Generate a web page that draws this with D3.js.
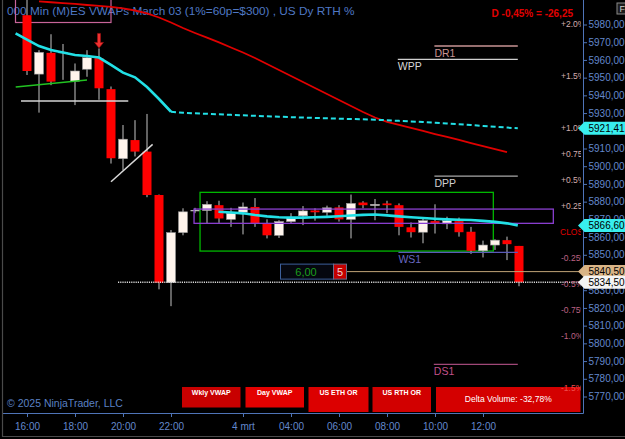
<!DOCTYPE html>
<html>
<head>
<meta charset="utf-8">
<script src="https://cdn.jsdelivr.net/npm/d3@7"></script>
<style>
html, body { margin: 0; padding: 0; background: #000; }
svg { display: block; font-family: "Liberation Sans", Arial, sans-serif; }
</style>
</head>
<body>
<script>
// Set up size
var W = 625, H = 439;

// 42 candles, bar 0 = 16:00
var opens  = [5985.25, 5952.0, 5964.0, 5964.5, 5948.0, 5954.75, 5961.0, 5943.5, 5904.25, 5914.75,
              5908.25, 5883.75, 5834.25, 5862.5, 5875.25, 5875.0, 5878.0, 5870.0, 5874.0, 5877.0,
              5867.75, 5861.0, 5868.75, 5872.0, 5875.0, 5874.0, 5876.75, 5870.0, 5879.5, 5877.75,
              5879.0, 5878.0, 5865.5, 5862.75, 5869.0, 5867.5, 5869.0, 5863.0, 5852.25, 5855.5,
              5858.25, 5855.0];
var highs  = [5994.0, 5965.5, 5974.5, 5969.0, 5958.0, 5965.5, 5966.5, 5945.0, 5923.25, 5926.0,
              5929.5, 5884.0, 5864.0, 5876.25, 5876.5, 5880.25, 5880.5, 5876.5, 5879.5, 5882.0,
              5870.0, 5869.5, 5873.5, 5877.5, 5876.25, 5877.75, 5878.0, 5884.0, 5880.25, 5881.5,
              5880.5, 5879.0, 5868.25, 5871.0, 5878.5, 5871.5, 5871.0, 5865.75, 5858.0, 5858.75,
              5860.25, 5855.0];
var lows   = [5951.5, 5930.25, 5945.75, 5948.75, 5934.5, 5950.5, 5937.5, 5901.5, 5897.75, 5905.5,
              5882.5, 5830.5, 5821.0, 5861.0, 5873.5, 5867.75, 5868.0, 5865.75, 5861.5, 5865.75,
              5859.25, 5859.5, 5867.75, 5866.75, 5869.25, 5872.0, 5868.75, 5859.25, 5876.25, 5869.5,
              5873.5, 5861.0, 5859.75, 5856.5, 5862.0, 5864.5, 5860.25, 5850.5, 5848.5, 5852.75,
              5847.0, 5832.25];
var closes = [5953.75, 5964.25, 5947.75, 5964.5, 5953.75, 5961.25, 5944.0, 5904.5, 5915.25, 5908.25,
              5883.75, 5834.25, 5862.5, 5874.25, 5875.25, 5878.5, 5870.5, 5873.5, 5877.0, 5867.75,
              5861.0, 5868.75, 5871.0, 5874.75, 5874.0, 5876.5, 5870.0, 5879.0, 5878.0, 5878.5,
              5878.0, 5865.75, 5862.75, 5869.25, 5867.75, 5869.25, 5862.75, 5852.25, 5855.5, 5858.25,
              5856.0, 5834.5];

var timeLabels = ["16:00", "18:00", "20:00", "22:00", "4 mrt", "04:00", "06:00", "08:00", "10:00", "12:00"];
var timeLabelBars = [0, 4, 8, 12, 18, 22, 26, 30, 34, 38];

// weekly vwap, starts at bar -1 (solid until bar 12, dashed after)
var weeklyVwap = [5975.0, 5971.5, 5967.85, 5965.6, 5964.2, 5962.8, 5962.2, 5961.35, 5957.15, 5952.8, 5950.2,
                  5944.7, 5937.95, 5930.75, 5930.2, 5929.85, 5929.6, 5929.3, 5929.0, 5928.75, 5928.45,
                  5928.15, 5927.95, 5927.7, 5927.5, 5927.25, 5927.05, 5926.85, 5926.65, 5926.45, 5926.25,
                  5925.95, 5925.6, 5925.3, 5924.95, 5924.55, 5924.15, 5923.7, 5923.25, 5922.75, 5922.25,
                  5921.8, 5921.41];
var weeklyStart = -1;

// day vwap, starts at bar 16
var dayVwap = [5874.3, 5873.85, 5873.4, 5872.45, 5871.7, 5871.15, 5871.0, 5871.0, 5871.15, 5871.4,
               5871.75, 5872.15, 5872.55, 5872.7, 5872.25, 5871.7, 5871.15, 5870.75, 5870.3, 5870.0,
               5869.8, 5869.6, 5869.15, 5868.6, 5867.75, 5866.6];
var dayStart = 16;

// red line, starts at bar 1
var redLine = [5993.0, 5992.55, 5992.05, 5991.6, 5991.0, 5990.55, 5990.0, 5989.05, 5987.9, 5986.25,
               5983.95, 5981.15, 5978.0, 5975.2, 5972.55, 5969.95, 5967.0, 5964.2, 5961.1, 5957.7,
               5954.3, 5950.9, 5947.55, 5944.15, 5940.75, 5937.35, 5934.0, 5930.6, 5927.5, 5925.05,
               5923.35, 5921.6, 5919.9, 5918.15, 5916.5, 5914.8, 5913.05, 5911.35, 5909.6, 5907.9];
var redStart = 1;

var levelNames  = ["DR1", "WPP", "DPP", "WS1", "DS1"];
var levelPrices = [5967.85, 5960.35, 5894.45, 5851.35, 5788.15];
var levelStart  = [33.95, 30.9, 33.95, 30.95, 33.9];
var levelColors = ["#c99494", "#cfcfcf", "#a8a8a8", "#5a5ab8", "#a04878"];
var levelText   = ["#c99494", "#d8d8d8", "#d0d0d0", "#6868c0", "#c0508a"];

var pctSteps  = [2, 1.5, 1, 0.75, 0.5, 0.25, -0.25, -0.5, -0.75, -1, -1.5];
var pctLabels = ["+2.0%", "+1.5%", "+1.0%", "+0.75%", "+0.5%", "+0.25%", "-0.25%", "-0.5%", "-0.75%", "-1.0%", "-1.5%"];
var refClose = 5863;

var tagPrices = [5921.41, 5866.60, 5840.50, 5834.50];
var tagColors = ["#38eeee", "#38eeee", "#d9b486", "#f4f4f4"];

var buttonLabels = ["Wkly VWAP", "Day VWAP", "US ETH OR", "US RTH OR", "Delta Volume: -32,78%"];

// scales
var x = d3.scaleLinear().domain([0, 41]).range([27, 519]);
var y = d3.scaleLinear().domain([5770, 5980]).range([396.5, 24.5]);
var fmt = function (d) { return d3.format(".2f")(d).replace(".", ","); };

var svg = d3.select("body").append("svg")
  .attr("width", W)
  .attr("height", H);

svg.append("rect").attr("width", W).attr("height", H).attr("fill", "#000");

var defs = svg.append("defs");
defs.append("clipPath").attr("id", "plot")
  .append("rect").attr("x", 3).attr("y", 0).attr("width", 580).attr("height", 413);
defs.append("clipPath").attr("id", "pct")
  .append("rect").attr("x", 540).attr("y", 0).attr("width", 41).attr("height", 413);

var plot = svg.append("g").attr("clip-path", "url(#plot)");

// title
plot.append("text")
  .attr("x", 7).attr("y", 15)
  .attr("fill", "#4f78c4").attr("font-size", 11.8)
  .text("000 Min (M)ES VWAPs March 03 (1%=60p=$300) , US Dy RTH %");
plot.append("rect")
  .attr("x", 15.5).attr("y", -2).attr("width", 95.5).attr("height", 24.5)
  .attr("fill", "none").attr("stroke", "#c8649a").attr("stroke-width", 1.2);

// boxes
plot.append("rect")
  .attr("x", x(14.42)).attr("y", y(5885.25))
  .attr("width", x(38.86) - x(14.42)).attr("height", y(5852.1) - y(5885.25))
  .attr("fill", "none").attr("stroke", "#00b800").attr("stroke-width", 1.3);

// candles
var bars = d3.range(opens.length).map(function (i) {
  return { i: i, o: opens[i], h: highs[i], l: lows[i], c: closes[i] };
});

plot.selectAll("line.wick").data(bars).enter().append("line")
  .attr("class", "wick")
  .attr("x1", function (d) { return x(d.i); })
  .attr("x2", function (d) { return x(d.i); })
  .attr("y1", function (d) { return y(d.h); })
  .attr("y2", function (d) { return y(d.l); })
  .attr("stroke", "#c4c4c4").attr("stroke-width", 1);

plot.selectAll("rect.body").data(bars).enter().append("rect")
  .attr("class", "body")
  .attr("x", function (d) { return x(d.i) - 4.5; })
  .attr("width", 9)
  .attr("y", function (d) { return y(Math.max(d.o, d.c)); })
  .attr("height", function (d) { return Math.max(1.2, Math.abs(y(d.o) - y(d.c))); })
  .attr("fill", function (d) { return d.c > d.o ? "#fff4ec" : (d.c < d.o ? "#ff0000" : "#c4c4c4"); })
  .attr("stroke", function (d) { return d.c > d.o ? "#9a9a9a" : "none"; })
  .attr("stroke-width", 0.6);

plot.append("rect")
  .attr("x", x(13.92)).attr("y", y(5875.8))
  .attr("width", x(43.86) - x(13.92)).attr("height", y(5867.75) - y(5875.8))
  .attr("fill", "none").attr("stroke", "#8a3fd0").attr("stroke-width", 1.3);

// drawn lines
plot.append("line")
  .attr("x1", x(-0.94)).attr("y1", y(5944.7)).attr("x2", x(5)).attr("y2", y(5948.65))
  .attr("stroke", "#22c322").attr("stroke-width", 1.5);
plot.append("line")
  .attr("x1", x(-0.5)).attr("y1", y(5936.8)).attr("x2", x(8.44)).attr("y2", y(5936.8))
  .attr("stroke", "#d4d4d4").attr("stroke-width", 1.5);
plot.append("line")
  .attr("x1", x(7)).attr("y1", y(5891.25)).attr("x2", x(10.47)).attr("y2", y(5912.35))
  .attr("stroke", "#d8d8d8").attr("stroke-width", 1.5);

// levels
levelNames.forEach(function (name, k) {
  plot.append("line")
    .attr("x1", x(levelStart[k])).attr("x2", x(40.9))
    .attr("y1", y(levelPrices[k])).attr("y2", y(levelPrices[k]))
    .attr("stroke", levelColors[k]).attr("stroke-width", 1.3);
  plot.append("text")
    .attr("x", x(levelStart[k])).attr("y", y(levelPrices[k]) + 11)
    .attr("fill", levelText[k]).attr("font-size", 10.5)
    .text(name);
});

// vwap lines
var line = d3.line().x(function (d) { return x(d[0]); }).y(function (d) { return y(d[1]); });
var redPts = redLine.map(function (v, k) { return [redStart + k, v]; });
plot.append("path").attr("d", line(redPts))
  .attr("fill", "none").attr("stroke", "#e00000").attr("stroke-width", 1.8);

var wkPts = weeklyVwap.map(function (v, k) { return [weeklyStart + k, v]; });
wkPts[0][0] = -0.95;
wkPts[wkPts.length - 1][0] = 40.9;
plot.append("path").attr("d", line(wkPts.slice(0, 14)))
  .attr("fill", "none").attr("stroke", "#22e0e6").attr("stroke-width", 2.6);
plot.append("path").attr("d", line(wkPts.slice(13)))
  .attr("fill", "none").attr("stroke", "#22e0e6").attr("stroke-width", 2)
  .attr("stroke-dasharray", "5,3");

var dayPts = dayVwap.map(function (v, k) { return [dayStart + k, v]; });
dayPts[0][0] = 15.95;
dayPts[dayPts.length - 1][0] = 40.9;
plot.append("path").attr("d", line(dayPts))
  .attr("fill", "none").attr("stroke", "#22e0e6").attr("stroke-width", 2.6);

// signal arrow above bar 6
var ax = x(6), ay = y(highs[6]);
plot.append("path")
  .attr("d", "M" + (ax - 1.5) + "," + (ay - 15) + "V" + (ay - 6) + "H" + (ax - 4.5) + "L" + ax + "," + (ay - 0.5) +
    "L" + (ax + 4.5) + "," + (ay - 6) + "H" + (ax + 1.5) + "V" + (ay - 15) + "Z")
  .attr("fill", "#f03030").attr("stroke", "#a01010").attr("stroke-width", 0.6);

// price lines
plot.append("line")
  .attr("x1", 118).attr("x2", 581).attr("y1", y(5834.5)).attr("y2", y(5834.5))
  .attr("stroke", "#d8d8d8").attr("stroke-width", 1.6).attr("stroke-dasharray", "1.2,1");
plot.append("line")
  .attr("x1", 347).attr("x2", 581).attr("y1", y(5840.5)).attr("y2", y(5840.5))
  .attr("stroke", "#c0a478").attr("stroke-width", 1);

// position box
var by = y(5840.5);
plot.append("rect").attr("x", 280.5).attr("y", by - 7.5).attr("width", 53).attr("height", 15)
  .attr("fill", "#05070f").attr("stroke", "#3d5f9a").attr("stroke-width", 1);
plot.append("rect").attr("x", 333.5).attr("y", by - 7.5).attr("width", 13).attr("height", 15)
  .attr("fill", "#c40000").attr("stroke", "#6a6a8a").attr("stroke-width", 1);
plot.append("text").attr("x", 306).attr("y", by + 4).attr("text-anchor", "middle")
  .attr("fill", "#1c9c1c").attr("font-size", 11).text("6,00");
plot.append("text").attr("x", 340).attr("y", by + 4).attr("text-anchor", "middle")
  .attr("fill", "#f0d0d0").attr("font-size", 11).text("5");

// bottom buttons
var btnX = [182, 245.5, 308.5, 372.5, 436];
var btnW = [58.5, 58.5, 60, 58.5, 144.5];
var btnH = [20.5, 20.5, 25, 25, 25];
var btnC = ["#c80000", "#e40000", "#dc0000", "#d20000", "#d40000"];
buttonLabels.forEach(function (t, k) {
  plot.append("rect").attr("x", btnX[k]).attr("y", 387).attr("width", btnW[k]).attr("height", btnH[k])
    .attr("fill", btnC[k]);
  var last = k === buttonLabels.length - 1;
  plot.append("text").attr("x", btnX[k] + btnW[k] / 2).attr("y", last ? 402 : 394.5)
    .attr("text-anchor", "middle").attr("fill", "#fff")
    .attr("font-size", last ? 8.5 : 7).attr("font-weight", last ? "normal" : "bold")
    .text(t);
});

// percent labels (clipped at the price axis)
var pct = svg.append("g").attr("clip-path", "url(#pct)");
pctSteps.forEach(function (p, k) {
  pct.append("text")
    .attr("x", 561).attr("y", y(refClose * (1 + p / 100)) + 3)
    .attr("fill", p > 0 ? "#d2acac" : (p < -1.2 ? "#f04a4a" : "#bc6284")).attr("font-size", 8.5)
    .text(pctLabels[k]);
});
pct.append("text").attr("x", 560).attr("y", y(refClose) + 3.5)
  .attr("fill", "#e00000").attr("font-size", 8.5).text("CLOSE");

// day change
svg.append("text").attr("x", 573).attr("y", 17).attr("text-anchor", "end")
  .attr("fill", "#e00000").attr("font-size", 10).attr("font-weight", "bold")
  .text("D -0,45% = -26,25");

plot.append("text").attr("x", 7).attr("y", 407)
  .attr("fill", "#5a80c4").attr("font-size", 10.5)
  .text("\u00a9 2025 NinjaTrader, LLC");

// axes
var axisColor = "#4f74b8", labelColor = "#6388cc";
var yAxis = d3.axisRight(y)
  .tickValues(d3.range(5770, 5981, 10))
  .tickSize(4).tickPadding(1.5)
  .tickFormat(fmt);
var gy = svg.append("g").attr("transform", "translate(583,0)").call(yAxis);
gy.select(".domain").remove();
gy.selectAll("line").attr("stroke", axisColor);
gy.selectAll("text").attr("fill", labelColor).attr("font-size", 10)
  .attr("font-family", "'Liberation Sans', Arial, sans-serif");
// labels fully covered by the price tags
gy.selectAll(".tick").filter(function (d) { return d === 5920 || d === 5840; })
  .select("text").remove();

var xAxis = d3.axisBottom(x)
  .tickValues(timeLabelBars)
  .tickSize(4).tickPadding(6)
  .tickFormat(function (d, i) { return timeLabels[i]; });
var gx = svg.append("g").attr("transform", "translate(0,413)").call(xAxis);
gx.select(".domain").remove();
gx.selectAll("line").attr("stroke", axisColor);
gx.selectAll("text").attr("fill", labelColor).attr("font-size", 10)
  .attr("font-family", "'Liberation Sans', Arial, sans-serif");

svg.append("path").attr("d", "M3,413.5H583.5V0")
  .attr("fill", "none").attr("stroke", axisColor).attr("stroke-width", 1);

// frame
svg.append("line").attr("x1", 2.5).attr("x2", 2.5).attr("y1", 0).attr("y2", 437)
  .attr("stroke", "#4a4a4a").attr("stroke-width", 1.2);
svg.append("line").attr("x1", 2).attr("x2", W).attr("y1", 436.5).attr("y2", 436.5)
  .attr("stroke", "#4a4a4a").attr("stroke-width", 1.2);

// price tags
tagPrices.forEach(function (p, k) {
  var cy = y(p);
  svg.append("path")
    .attr("d", "M578," + cy + "L584.5," + (cy - 6.5) + "H626V" + (cy + 6.5) + "H584.5Z")
    .attr("fill", tagColors[k]);
  svg.append("text").attr("x", 588.5).attr("y", cy + 3.6)
    .attr("fill", "#000").attr("font-size", 10).text(fmt(p));
});

// F button
svg.append("rect").attr("x", 617).attr("y", 3).attr("width", 12).attr("height", 11)
  .attr("fill", "#1c1c1c").attr("stroke", "#8a8a8a").attr("stroke-width", 1);
svg.append("text").attr("x", 619.5).attr("y", 12).attr("fill", "#cfcfcf")
  .attr("font-size", 9).text("F");
</script>
</body>
</html>
